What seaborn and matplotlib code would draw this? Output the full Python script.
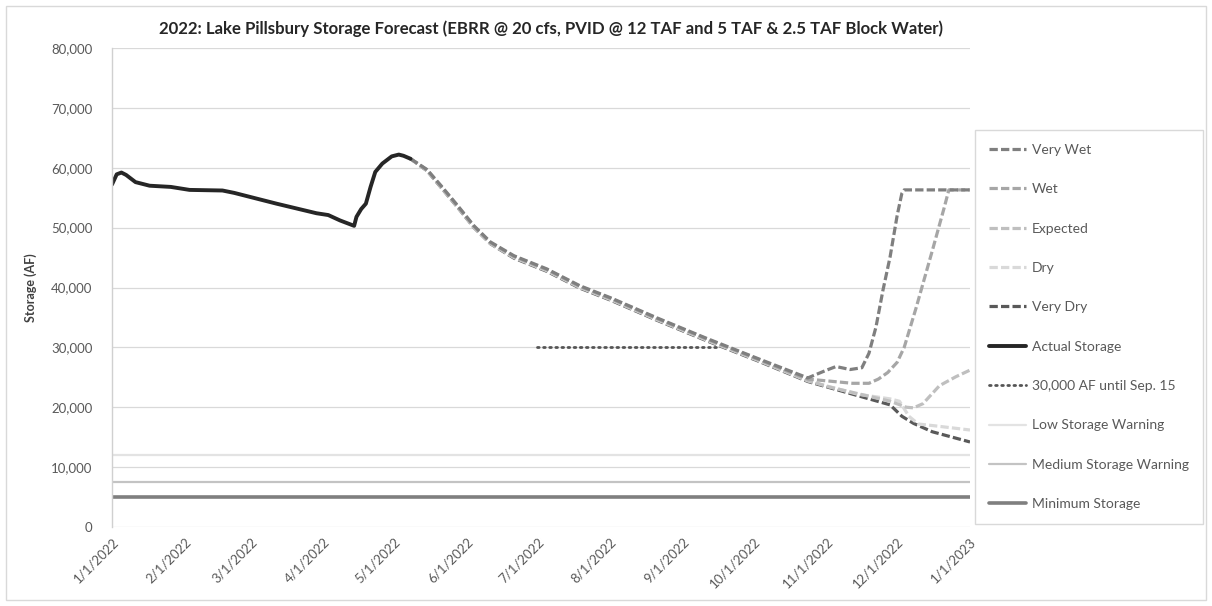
import pandas as pd
import matplotlib
matplotlib.use("Agg")
import matplotlib.pyplot as plt
import matplotlib.ticker as mticker
import matplotlib.dates as mdates
from matplotlib.patches import Rectangle
import seaborn as sns

# ---- observed storage (AF) ----
actual_dates = ["2022-01-01", "2022-01-03", "2022-01-05", "2022-01-07", "2022-01-11",
                "2022-01-17", "2022-01-26", "2022-02-03", "2022-02-17", "2022-02-22",
                "2022-03-01", "2022-03-12", "2022-03-29", "2022-04-03", "2022-04-08",
                "2022-04-14", "2022-04-15", "2022-04-17", "2022-04-19", "2022-04-21",
                "2022-04-23", "2022-04-26", "2022-04-30", "2022-05-03", "2022-05-05",
                "2022-05-08"]
actual_af = [57200, 58900, 59200, 58800, 57600,
             57000, 56800, 56300, 56200, 55800,
             55100, 54000, 52400, 52100, 51200,
             50300, 51800, 53100, 54000, 56800,
             59300, 60700, 61900, 62200, 62000,
             61500]

# ---- shared forecast path, May 8 -> Oct 24 ----
base_dates = ["2022-05-08", "2022-05-15", "2022-05-21", "2022-05-28", "2022-06-04",
              "2022-06-11", "2022-06-21", "2022-07-05", "2022-07-19", "2022-08-01",
              "2022-08-21", "2022-09-11", "2022-10-03", "2022-10-24"]

very_wet_dates = base_dates + ["2022-11-01", "2022-11-05", "2022-11-11", "2022-11-16",
                               "2022-11-19", "2022-11-22", "2022-11-25", "2022-11-28",
                               "2022-12-01", "2022-12-03", "2022-12-04", "2023-01-01"]
very_wet_af = [61500, 59700, 57000, 53700, 50300, 47600, 45300, 43100, 40300, 38300,
               34900, 31500, 28100, 24900,
               26200, 26800, 26300, 26600, 29000, 33400, 39600, 45100,
               52000, 55700, 56300, 56300]

wet_dates = base_dates + ["2022-11-04", "2022-11-12", "2022-11-19", "2022-11-23",
                          "2022-11-27", "2022-12-01", "2022-12-04", "2022-12-09",
                          "2022-12-16", "2022-12-21", "2022-12-23", "2023-01-01"]
wet_af = [61500, 59650, 56900, 53600, 50200, 47500, 45200, 43000, 40200, 38200,
          34800, 31400, 28000, 24700,
          24300, 24000, 24000, 24700, 25800, 27500, 30000, 36500,
          46200, 53300, 56300, 56300]

expected_dates = base_dates + ["2022-11-02", "2022-11-14", "2022-11-28", "2022-12-05",
                               "2022-12-08", "2022-12-12", "2022-12-19", "2022-12-26",
                               "2023-01-01"]
expected_af = [61500, 59600, 56800, 53500, 50100, 47400, 45100, 42900, 40100, 38100,
               34700, 31300, 27900, 24500,
               23400, 22300, 21000, 20000, 19900, 20600, 23600, 25100,
               26200]

dry_dates = base_dates + ["2022-11-14", "2022-11-28", "2022-12-02", "2022-12-06",
                          "2022-12-10", "2022-12-17", "2023-01-01"]
dry_af = [61500, 59550, 56750, 53450, 50050, 47350, 45000, 42800, 40000, 38000,
          34600, 31200, 27800, 24400,
          22200, 21400, 21000, 18500, 17200, 16900, 16200]

very_dry_dates = base_dates + ["2022-11-11", "2022-11-28", "2022-12-03", "2022-12-08",
                               "2022-12-16", "2023-01-01"]
very_dry_af = [61500, 59500, 56700, 53400, 50000, 47300, 44900, 42700, 39900, 37900,
               34500, 31100, 27700, 24300,
               22300, 20400, 18500, 17300, 15900, 14200]

# ---- reference levels ----
target_dates = ["2022-07-01", "2022-09-15"]
target_af = [30000, 30000]
year_span = ["2022-01-01", "2023-01-01"]
low_warning_af = [12000, 12000]
medium_warning_af = [7500, 7500]
minimum_af = [5000, 5000]

y_ticks = [0, 10000, 20000, 30000, 40000, 50000, 60000, 70000, 80000]
title = ("2022: Lake Pillsbury Storage Forecast (EBRR @ 20 cfs, PVID @ 12 TAF "
         "and 5 TAF & 2.5 TAF Block Water)")

sns.set_theme(style="white")
plt.rcParams["font.family"] = ["Lato", "DejaVu Sans"]

fig = plt.figure(figsize=(12.12, 6.06), dpi=100)
ax = fig.add_axes([112 / 1212, 1 - 527 / 606, (970 - 112) / 1212, (527 - 48) / 606])

def d(lst):
    return pd.to_datetime(lst)

dash = (0, (2.6, 1.0))
series = [
    ("Very Wet", very_wet_dates, very_wet_af, "#7f7f7f", dash, 2.3),
    ("Wet", wet_dates, wet_af, "#a6a6a6", dash, 2.3),
    ("Expected", expected_dates, expected_af, "#bfbfbf", dash, 2.3),
    ("Dry", dry_dates, dry_af, "#d9d9d9", dash, 2.3),
    ("Very Dry", very_dry_dates, very_dry_af, "#595959", dash, 2.3),
]

handles = {}
# reference levels go underneath
for lbl, vals, col, lw in [("Low Storage Warning", low_warning_af, "#e3e3e3", 1.6),
                           ("Medium Storage Warning", medium_warning_af, "#c3c3c3", 1.6),
                           ("Minimum Storage", minimum_af, "#7f7f7f", 2.6)]:
    sns.lineplot(x=d(year_span), y=vals, ax=ax, color=col, linewidth=lw, label=lbl)
    handles[lbl] = ax.get_lines()[-1]

sns.lineplot(x=d(target_dates), y=target_af, ax=ax, color="#555555", linewidth=2.0,
             linestyle=(0, (0.6, 1.6)), dash_capstyle="round",
             label="30,000 AF until Sep. 15")
handles["30,000 AF until Sep. 15"] = ax.get_lines()[-1]

for lbl, dts, vals, col, ls, lw in reversed(series):
    sns.lineplot(x=d(dts), y=vals, ax=ax, color=col, linewidth=lw, linestyle=ls, label=lbl)
    handles[lbl] = ax.get_lines()[-1]

sns.lineplot(x=d(actual_dates), y=actual_af, ax=ax, color="#262626", linewidth=2.8,
             label="Actual Storage")
handles["Actual Storage"] = ax.get_lines()[-1]

# axes styling
ax.set_xlim(pd.Timestamp("2022-01-01"), pd.Timestamp("2023-01-01"))
ax.set_ylim(0, 80000)
ax.set_yticks(y_ticks)
ax.yaxis.set_major_formatter(mticker.FuncFormatter(lambda v, p: f"{int(v):,}"))
ax.xaxis.set_major_locator(mdates.MonthLocator())
ax.xaxis.set_major_formatter(mticker.FuncFormatter(
    lambda v, p: (lambda t: f"{t.month}/{t.day}/{t.year}")(mdates.num2date(v))))
ax.grid(axis="y", color="#d9d9d9", linewidth=0.9)
ax.grid(axis="x", visible=False)
for s in ["top", "right", "bottom"]:
    ax.spines[s].set_visible(False)
ax.spines["left"].set_color("#d0d0d0")
ax.spines["left"].set_linewidth(1.0)
ax.tick_params(axis="y", length=0, labelsize=9.5, colors="#595959", pad=14)
ax.tick_params(axis="x", length=0, labelsize=9.5, colors="#595959", pad=6)
plt.setp(ax.get_xticklabels(), rotation=45, ha="right", rotation_mode="anchor")
ax.set_xlabel("")
ax.set_ylabel("Storage (AF)", fontsize=9, fontweight="bold", color="#404040", labelpad=10)
ax.set_title(title, fontsize=12.1, fontweight="bold", color="#262626", pad=10, x=0.512)

order = ["Very Wet", "Wet", "Expected", "Dry", "Very Dry", "Actual Storage",
         "30,000 AF until Sep. 15", "Low Storage Warning", "Medium Storage Warning",
         "Minimum Storage"]
leg = ax.legend([handles[k] for k in order], order, loc="upper left",
                bbox_to_anchor=(975 / 1212, 1 - 130 / 606), bbox_transform=fig.transFigure,
                frameon=True, fancybox=False, edgecolor="#d0d0d0", fontsize=10,
                labelspacing=1.97, handlelength=2.7, handletextpad=0.4, borderpad=1.0,
                borderaxespad=0)
for t in leg.get_texts():
    t.set_color("#595959")
leg.get_frame().set_linewidth(1.0)

fig.patches.append(Rectangle((6 / 1212, 6 / 606), 1200 / 1212, 594 / 606,
                             transform=fig.transFigure, fill=False,
                             edgecolor="#d9d9d9", linewidth=1.0))

fig.savefig("out.png", dpi=100, facecolor="white")
